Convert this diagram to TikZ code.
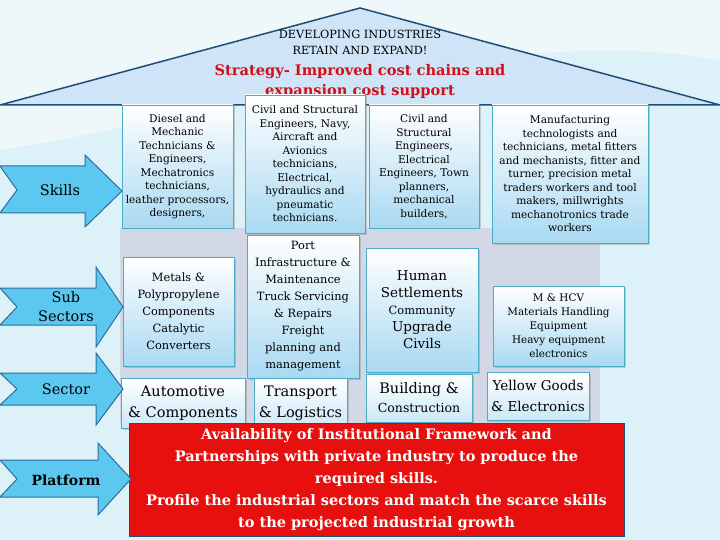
\documentclass[tikz,border=0pt]{standalone}
\usepackage{fontspec}
\setmainfont{DejaVu Serif}
\usetikzlibrary{shadows}
\definecolor{bgc}{HTML}{DDF2F8}
\definecolor{roofc}{HTML}{CFE4F6}
\definecolor{navy}{HTML}{1F4E79}
\definecolor{greyc}{HTML}{D2D8E6}
\definecolor{boxb}{HTML}{4BACC6}
\definecolor{boxf}{HTML}{A9D9F2}
\definecolor{arrf}{HTML}{5CC8F0}
\definecolor{arrb}{HTML}{2E6C9E}
\definecolor{redf}{HTML}{E8100F}
\definecolor{titr}{HTML}{D0111B}
\tikzset{
 ibox/.style={draw=boxb,line width=0.8pt,top color=white,bottom color=boxf,drop shadow={opacity=0.35,shadow xshift=1.5pt,shadow yshift=-1.5pt},inner sep=0pt,align=center,font=\fontsize{10.6}{13.5}\selectfont},
 sbox/.style={draw=boxb,line width=0.8pt,top color=white,bottom color=boxf!60,drop shadow={opacity=0.35,shadow xshift=1.5pt,shadow yshift=-1.5pt},inner sep=0pt,align=center,font=\fontsize{14.5}{21}\selectfont},
 arr/.style={fill=arrf,draw=arrb,line width=1pt},
 alab/.style={font=\fontsize{14.5}{19}\selectfont,align=center}
}
\begin{document}
\begin{tikzpicture}[x=1pt,y=-1pt]
\useasboundingbox (0,0) rectangle (720,540);
\fill[bgc] (0,0) rectangle (720,540);
\fill[white,opacity=0.5] (0,0) -- (720,0) -- (720,60) .. controls (500,20) and (200,120) .. (0,150) -- cycle;
\fill[greyc] (120,228) rectangle (600,423);
\draw[navy,line width=1.5pt,fill=roofc] (0,105) -- (360,8) -- (720,105) -- cycle;
\node[font=\fontsize{11.3}{16}\selectfont,align=center] (t1) at (360,42) {DEVELOPING INDUSTRIES\\RETAIN AND EXPAND!};
\node[font=\bfseries\fontsize{14.6}{20}\selectfont,text=titr,align=center] (t2) at (360,81) {Strategy- Improved cost chains and\\expansion cost support};
% skills boxes
\node[ibox,minimum width=111pt,minimum height=123pt] (k1) at (177.5,166.5) {Diesel and\\Mechanic\\Technicians \&\\Engineers,\\Mechatronics\\technicians,\\leather processors,\\designers,};
\node[ibox,minimum width=120pt,minimum height=138pt] (k2) at (305,164) {Civil and Structural\\Engineers, Navy,\\Aircraft and\\Avionics\\technicians,\\Electrical,\\hydraulics and\\pneumatic\\technicians.};
\node[ibox,minimum width=110pt,minimum height=123pt] (k3) at (424,166.5) {Civil and\\Structural\\Engineers,\\Electrical\\Engineers, Town\\planners,\\mechanical\\builders,};
\node[ibox,minimum width=156pt,minimum height=138pt] (k4) at (570,174) {Manufacturing\\technologists and\\technicians, metal fitters\\and mechanists, fitter and\\turner, precision metal\\traders workers and tool\\makers, millwrights\\mechanotronics trade\\workers};
% sub sector boxes
\node[ibox,minimum width=111pt,minimum height=109pt,font=\fontsize{11.4}{17}\selectfont] (s1) at (178.5,311.5) {Metals \&\\Polypropylene\\Components\\Catalytic\\Converters};
\node[ibox,minimum width=112pt,minimum height=143pt,font=\fontsize{11.4}{17}\selectfont] (s2) at (303,306.5) {Port\\Infrastructure \&\\Maintenance\\Truck Servicing\\\& Repairs\\Freight\\planning and\\management};
\node[ibox,minimum width=112pt,minimum height=124pt,font=\fontsize{11.4}{17}\selectfont] (s3) at (422,310) {{\fontsize{13.5}{19}\selectfont Human}\\{\fontsize{13.5}{19}\selectfont Settlements}\\Community\\{\fontsize{13.5}{19}\selectfont Upgrade}\\{\fontsize{13.5}{19}\selectfont Civils}};
\node[ibox,minimum width=131pt,minimum height=80pt,font=\fontsize{10.4}{14}\selectfont] (s4) at (558.5,326) {M \& HCV\\Materials Handling\\Equipment\\Heavy equipment\\electronics};
% sector boxes
\node[sbox,minimum width=124pt,minimum height=50pt] (c1) at (183,403) {Automotive\\\& Components};
\node[sbox,minimum width=93pt,minimum height=50pt] (c2) at (300.5,403) {Transport\\\& Logistics};
\node[sbox,minimum width=106pt,minimum height=48pt,font=\fontsize{14.5}{19}\selectfont] (c3) at (419,398) {Building \&\\{\fontsize{12.5}{16}\selectfont Construction}};
\node[sbox,minimum width=102pt,minimum height=48pt,font=\fontsize{13.5}{21}\selectfont] (c4) at (538,396) {Yellow Goods\\\& Electronics};
% red platform
\node[fill=redf,draw=navy,line width=1pt,minimum width=495pt,minimum height=113pt,text=white,align=center,font=\bfseries\fontsize{14.5}{22}\selectfont] (p) at (376.5,479.5) {Availability of Institutional Framework and\\Partnerships with private industry to produce the\\required skills.\\Profile the industrial sectors and match the scarce skills\\to the projected industrial growth};
% arrows
\draw[arr] (0,166) -- (85,166) -- (85,155) -- (122,191) -- (85,227) -- (85,213) -- (0,213) -- (17,190) -- cycle;
\node[alab] (a1) at (60,190) {Skills};
\draw[arr] (0,288) -- (96,288) -- (96,267) -- (123,307) -- (96,347) -- (96,325) -- (0,325) -- (17,307) -- cycle;
\node[alab] (a2) at (66,307) {Sub\\Sectors};
\draw[arr] (0,373) -- (96,373) -- (96,353) -- (123,389) -- (96,425) -- (96,405) -- (0,405) -- (17,389) -- cycle;
\node[alab] (a3) at (66,389) {Sector};
\draw[arr] (0,460) -- (98,460) -- (98,443) -- (131,479) -- (98,515) -- (98,497) -- (0,497) -- (17,479) -- cycle;
\node[alab,font=\bfseries\fontsize{14}{19}\selectfont] (a4) at (66,480) {Platform};
\end{tikzpicture}
\end{document}
